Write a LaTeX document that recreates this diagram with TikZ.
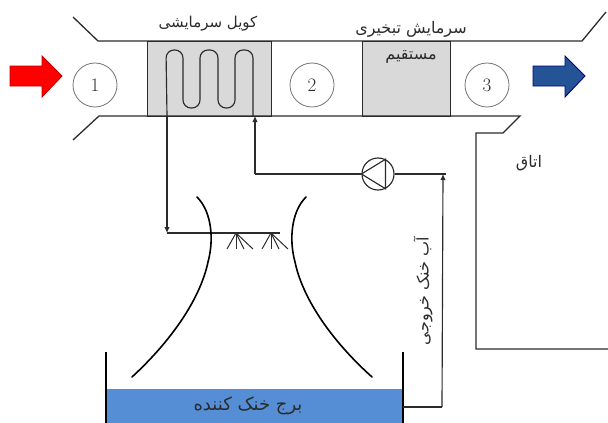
\documentclass[tikz,border=0pt]{standalone}
\usepackage{fontspec}
\usetikzlibrary{arrows.meta}
\TeXXeTstate=1
\newfontfamily\arabicfont[Script=Arabic]{DejaVu Sans}
\definecolor{ink}{HTML}{2B2B2B}
\definecolor{water}{RGB}{85,142,213}
\definecolor{airblue}{RGB}{36,84,150}
\tikzset{
  duct/.style={draw=ink,line width=1.3pt},
  pipe/.style={draw=ink,line width=1.15pt},
  pipearrow/.style={pipe,-{Latex[length=6pt,width=5.5pt]}},
  tower/.style={draw=black,line width=1.6pt,line cap=round},
  wall/.style={draw=black,line width=1.5pt},
  spray/.style={draw=ink,line width=1pt},
  unit/.style={draw=ink,line width=1.3pt,fill=black!15,inner sep=0pt,anchor=north west},
  state/.style={circle,draw=black!55,line width=.8pt,minimum size=44pt,inner sep=0pt,font=\fontsize{19}{19}\selectfont,text=ink},
  farsi/.style={font=\arabicfont\fontsize{16}{18}\selectfont,text=ink,inner sep=0pt},
}
\begin{document}
\begin{tikzpicture}[x=1pt,y=-1pt]
\useasboundingbox (0,0) rectangle (608,423);
% water and tower basin
\fill[water] (106,389) rectangle (403,423);
\draw[wall] (106,352) -- (106,423);
\draw[wall] (403,352) -- (403,423);
% units
\node[unit,minimum width=124pt,minimum height=75pt] (coil) at (147,41) {};
\node[unit,minimum width=88pt,minimum height=75pt] (evap) at (362,41) {};
% duct
\draw[duct] (73,17) -- (98,41) -- (582,41) -- (606,12);
\draw[duct] (73,140) -- (99,116) -- (520,116) -- (503,133) -- (476,133) -- (476,349) -- (608,349);
% states
\node[state] (s1) at (95,85) {1};
\node[state] (s2) at (312,85) {2};
\node[state] (s3) at (487,85) {3};
% air arrows
\filldraw[draw=red!75!black,fill=red,line width=.9pt] (10,66) -- (42,66) -- (42,56) -- (62,76) -- (42,97) -- (42,86) -- (10,86) -- cycle;
\filldraw[draw=blue!50!black,fill=airblue,line width=.9pt] (533,66) -- (565,66) -- (565,56) -- (585,76) -- (565,97) -- (565,86) -- (533,86) -- cycle;
% serpentine
\coordinate (coilin) at (255,116);
\coordinate (coilout) at (167,116);
\draw[pipe,rounded corners=8pt] (coilout) -- (166,50) -- (183,50) -- (183,108) -- (200,108) -- (200,50) -- (218,50) -- (218,108) -- (235,108) -- (235,50) -- (253,50) -- (253,116);
% pump
\node[circle,draw=ink,line width=1.15pt,minimum size=32pt,inner sep=0pt] (pump) at (378,174) {};
\draw[pipe] (pump.180) -- (pump.63) -- (pump.-63) -- cycle;
% water pipes
\coordinate (sprayend) at (280,233);
\coordinate (sprayleft) at (167,233);
\coordinate (ret) at (255,174);
\coordinate (riser) at (442,407);
\coordinate (risertop) at (443,174);
\coordinate (basin) at (403,407);
\draw[pipearrow] (coilout) -- (sprayleft);
\draw[pipe] (sprayleft) -- (sprayend);
\draw[pipearrow] (ret) -- (coilin);
\draw[pipe] (pump.west) -- (ret);
\draw[pipe] (pump.east) -- (446,174);
\draw[pipe] (basin) -- (riser);
\draw[pipearrow] (riser) -- (risertop);
% sprays
\foreach \a/\n in {236/a,271/b}{
  \coordinate (n\n) at (\a,233);
  \foreach \d in {-9,0,8,17}{\draw[spray] (n\n) -- ++(\d,16);}
}
% tower shell
\draw[tower] (197,197) .. controls (212,212) and (214,240) .. (208,262) .. controls (200,300) and (170,342) .. (132,377);
\draw[tower] (306,197) .. controls (291,212) and (289,240) .. (295,262) .. controls (303,300) and (333,342) .. (372,377);
% labels
\node[farsi,font=\arabicfont\fontsize{15}{18}\selectfont] (l1) at (208,24) {\beginR کویل سرمایشی\endR};
\node[farsi] (l2) at (411,29) {\beginR سرمایش تبخیری\endR};
\node[farsi] (l3) at (411,57) {\beginR مستقیم\endR};
\node[farsi] (l4) at (529,163) {\beginR اتاق\endR};
\node[farsi,font=\arabicfont\fontsize{18}{20}\selectfont] (l5) at (248,406) {\beginR برج خنک کننده\endR};
\node[farsi,rotate=90] (l6) at (423,291) {\beginR آب خنک خروجی\endR};
\end{tikzpicture}
\end{document}
